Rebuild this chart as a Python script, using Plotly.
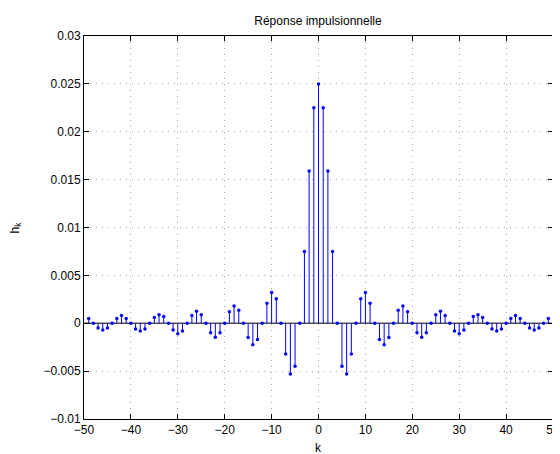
import plotly.graph_objects as go

# impulse response (k = -49 .. 49)
k = list(range(-49, 50))
h = [
    0.0005, 0.0, -0.0005, -0.0007, -0.0005, 0.0, 0.0005, 0.0008, 0.0005, 0.0,
    -0.0006, -0.0008, -0.0006, 0.0, 0.0006, 0.0009, 0.0007, 0.0, -0.0007, -0.0011,
    -0.0008, 0.0, 0.0008, 0.00125, 0.0009, 0.0, -0.001, -0.00145, -0.001, 0.0,
    0.0012, 0.0018, 0.00135, 0.0, -0.0015, -0.00225, -0.0017, 0.0, 0.0021, 0.0032,
    0.00255, 0.0, -0.0032, -0.0053, -0.0045, 0.0, 0.0075, 0.0159, 0.0225,
    0.025,
    0.0225, 0.0159, 0.0075, 0.0, -0.0045, -0.0053, -0.0032, 0.0, 0.00255, 0.0032,
    0.0021, 0.0, -0.0017, -0.00225, -0.0015, 0.0, 0.00135, 0.0018, 0.0012, 0.0,
    -0.001, -0.00145, -0.001, 0.0, 0.0009, 0.00125, 0.0008, 0.0, -0.0008, -0.0011,
    -0.0007, 0.0, 0.0007, 0.0009, 0.0006, 0.0, -0.0006, -0.0008, -0.0006, 0.0,
    0.0005, 0.0008, 0.0005, 0.0, -0.0005, -0.0007, -0.0005, 0.0, 0.0005,
]

x_ticks = [-50, -40, -30, -20, -10, 0, 10, 20, 30, 40, 50]
y_ticks = [-0.01, -0.005, 0, 0.005, 0.01, 0.015, 0.02, 0.025, 0.03]
y_labels = ["\u22120.01", "\u22120.005", "0", "0.005", "0.01", "0.015", "0.02", "0.025", "0.03"]

FONT = "Liberation Sans, Arial, sans-serif"

stem_x, stem_y = [], []
for kk, hh in zip(k, h):
    stem_x += [kk, kk, None]
    stem_y += [0, hh, None]

fig = go.Figure()

# baseline
fig.add_trace(go.Scatter(
    x=[-50, 50],
    y=[0, 0],
    mode="lines",
    line=dict(color="#505050", width=1.5),
    hoverinfo="skip",
))
fig.add_trace(go.Scatter(
    x=stem_x,
    y=stem_y,
    mode="lines",
    line=dict(color="#0000ff", width=1),
    hoverinfo="skip",
))
fig.add_trace(go.Scatter(
    x=k,
    y=h,
    mode="markers",
    marker=dict(color="#0000ff", size=3.5, symbol="circle"),
))

axis_common = dict(
    showline=True,
    linecolor="black",
    linewidth=1,
    mirror="ticks",
    ticks="inside",
    ticklen=5,
    tickcolor="black",
    showgrid=True,
    gridcolor="#a8a8a8",
    griddash="1px,5px",
    gridwidth=1,
    zeroline=False,
    automargin=False,
    tickfont=dict(family=FONT, size=12, color="black"),
)

fig.update_xaxes(range=[-50, 50], tickvals=x_ticks, **axis_common)
fig.update_yaxes(range=[-0.01, 0.03], tickvals=y_ticks, ticktext=y_labels, **axis_common)

# the page body has an 8px margin, so the figure is 8px smaller than the window
fig.update_layout(
    width=552,
    height=446,
    margin=dict(l=76, r=7, t=28, b=35),
    paper_bgcolor="white",
    plot_bgcolor="white",
    showlegend=False,
    title=dict(
        text="Réponse impulsionnelle",
        x=(318 - 8) / 552,
        xanchor="center",
        y=1 - 13 / 446,
        yanchor="middle",
        font=dict(family=FONT, size=12, color="black"),
    ),
)
fig.add_annotation(
    text="k", xref="x", yref="paper", x=0, y=-29 / 383,
    showarrow=False, xanchor="center", yanchor="middle",
    font=dict(family=FONT, size=12, color="black"),
)
fig.add_annotation(
    text="h<sub>k</sub>", xref="paper", yref="paper", x=-69 / 469, y=0.5,
    textangle=-90, showarrow=False, xanchor="center", yanchor="middle",
    font=dict(family=FONT, size=12, color="black"),
)

fig.write_html("out.html")
